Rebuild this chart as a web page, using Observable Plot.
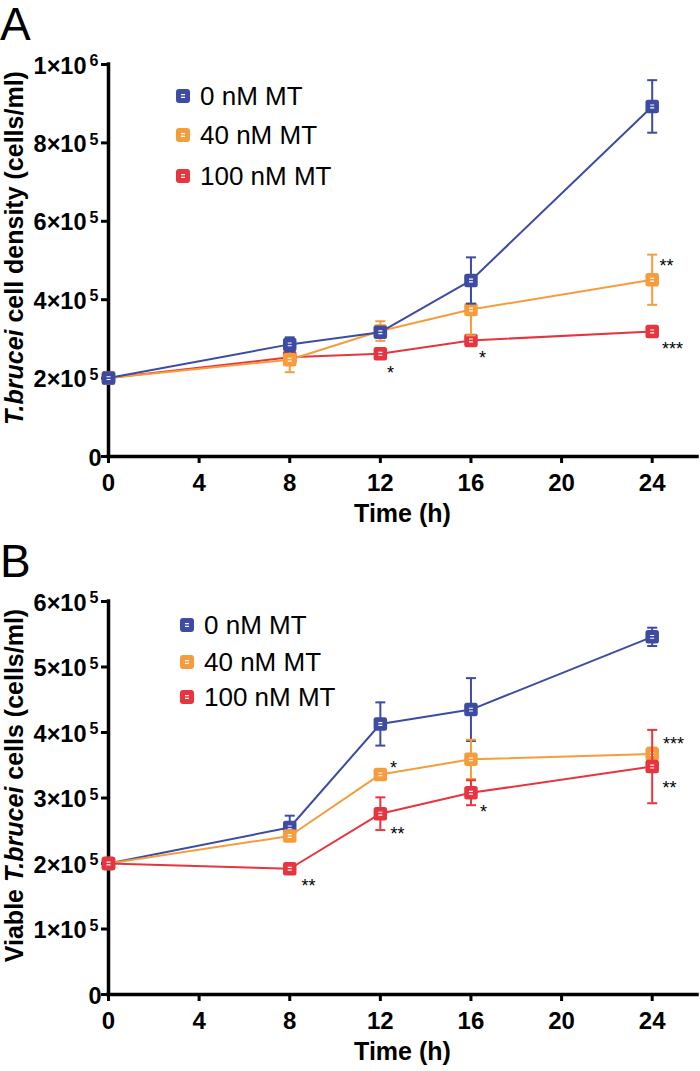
<!DOCTYPE html>
<html>
<head>
<meta charset="utf-8">
<script src="https://cdn.jsdelivr.net/npm/d3@7"></script>
<script src="https://cdn.jsdelivr.net/npm/@observablehq/plot@0.6"></script>
<style>
  body { margin: 0; background: #fff; }
  #root { width: 700px; }
  #root svg { display: block; }
</style>
</head>
<body>
<div id="root"></div>
<script>
// ---------- shared ----------
const timesH = [0, 8, 12, 16, 24];
const xTicks = [0, 4, 8, 12, 16, 20, 24];
const xMax = 26;
const seriesNames = ["0 nM MT", "40 nM MT", "100 nM MT"];
const seriesColors = ["#3d4ca2", "#f59d3d", "#e6353f"];
const xTitle = "Time (h)";

// ---------- panel A: T.brucei cell density (cells/ml) ----------
const densityMean0   = [2.00e5, 2.86e5, 3.17e5, 4.49e5, 8.93e5];
const densityErr0    = [0.04e5, 0.18e5, 0.10e5, 0.59e5, 0.67e5];
const densityMean40  = [2.00e5, 2.47e5, 3.20e5, 3.75e5, 4.51e5];
const densityErr40   = [0.03e5, 0.32e5, 0.25e5, 0.66e5, 0.64e5];
const densityMean100 = [2.00e5, 2.53e5, 2.62e5, 2.96e5, 3.19e5];
const densityErr100  = [0.03e5, 0.04e5, 0.05e5, 0.07e5, 0.05e5];
const densityTicks    = [0, 2e5, 4e5, 6e5, 8e5, 1e6];
const densityTickBase = ["0", "2×10", "4×10", "6×10", "8×10", "1×10"];
const densityTickExp  = ["", "5", "5", "5", "5", "6"];
const densityStarText  = ["*", "*", "**", "***"];
const densityStarTime  = [12.45, 16.51, 24.63, 24.90];
const densityStarValue = [2.245e5, 2.63e5, 4.97e5, 2.86e5];
const densityTitle = [["T.brucei", true], [" cell density (cells/ml)", false]];

// ---------- panel B: Viable T.brucei cells (cells/ml) ----------
const viableMean0   = [2.00e5, 2.55e5, 4.13e5, 4.35e5, 5.46e5];
const viableErr0    = [0.03e5, 0.18e5, 0.33e5, 0.48e5, 0.14e5];
const viableMean40  = [2.00e5, 2.42e5, 3.36e5, 3.59e5, 3.67e5];
const viableErr40   = [0.03e5, 0.05e5, 0.05e5, 0.30e5, 0.10e5];
const viableMean100 = [2.00e5, 1.92e5, 2.76e5, 3.08e5, 3.48e5];
const viableErr100  = [0.03e5, 0.04e5, 0.25e5, 0.19e5, 0.56e5];
const viableTicks    = [0, 1e5, 2e5, 3e5, 4e5, 5e5, 6e5];
const viableTickBase = ["0", "1×10", "2×10", "3×10", "4×10", "5×10", "6×10"];
const viableTickExp  = ["", "5", "5", "5", "5", "5", "5"];
const viableStarText  = ["**", "*", "**", "*", "***", "**"];
const viableStarTime  = [8.83, 12.58, 12.76, 16.55, 24.94, 24.76];
const viableStarValue = [1.72e5, 3.52e5, 2.52e5, 2.85e5, 3.89e5, 3.22e5];
const viableTitle = [["Viable ", false], ["T.brucei", true], [" cells (cells/ml)", false]];

// ---------- symbols ----------
const capSymbol = { draw(ctx) { ctx.moveTo(-5, 0); ctx.lineTo(5, 0); } };
const innerSymbol = { draw(ctx) {
  ctx.moveTo(-2, -1.4); ctx.lineTo(2, -1.4);
  ctx.moveTo(-2, 1.4); ctx.lineTo(2, 1.4);
} };

const FONT = "'Liberation Sans', Arial, Helvetica, sans-serif";

function makePanel(cfg) {
  const rows = [];
  cfg.means.forEach((m, s) => m.forEach((v, i) =>
    rows.push({ idx: s, series: seriesNames[s], time: timesH[i], value: v, err: cfg.errs[s][i] })));
  const ticks = cfg.ticks.map((v, i) => ({ v, base: cfg.tickBase[i], exp: cfg.tickExp[i] }));
  const stars = cfg.starText.map((t, i) => ({ text: t, time: cfg.starTime[i], value: cfg.starValue[i] }));

  const marks = [
    Plot.axisX({ ticks: xTicks, tickSize: 7, tickPadding: 10, strokeWidth: 3, fontSize: 24, fontWeight: "bold", label: null }),
    Plot.axisY({ ticks: cfg.ticks, tickSize: 7, strokeWidth: 3, tickFormat: () => "", label: null }),
    Plot.ruleX([0], { y1: 0, y2: cfg.yMax, stroke: "black", strokeWidth: 3.5, strokeLinecap: "square" }),
    Plot.ruleY([0], { stroke: "black", strokeWidth: 3.5, strokeLinecap: "square" }),
    Plot.text(ticks.filter(d => d.exp), { y: "v", text: "base", frameAnchor: "left", textAnchor: "end", dx: -22, dy: 1.5, fontSize: 23.5, fontWeight: "bold" }),
    Plot.text(ticks.filter(d => d.exp), { y: "v", text: "exp", frameAnchor: "left", textAnchor: "end", dx: -10, dy: -3.5, fontSize: 16, fontWeight: "bold" }),
    Plot.text(ticks.filter(d => !d.exp), { y: "v", text: "base", frameAnchor: "left", textAnchor: "end", dx: -7, dy: 1.5, fontSize: 23.5, fontWeight: "bold" })
  ];
  for (const s of cfg.order) {
    const r = rows.filter(d => d.idx === s);
    const c = seriesColors[s];
    marks.push(
      Plot.ruleX(r, { x: "time", y1: d => d.value - d.err, y2: d => d.value + d.err, stroke: c, strokeWidth: 2 }),
      Plot.dot(r, { x: "time", y: d => d.value + d.err, symbol: capSymbol, stroke: c, strokeWidth: 2 }),
      Plot.dot(r, { x: "time", y: d => d.value - d.err, symbol: capSymbol, stroke: c, strokeWidth: 2 }),
      Plot.line(r, { x: "time", y: "value", stroke: c, strokeWidth: 2 }),
      Plot.dot(r, { x: "time", y: "value", symbol: "square", r: 4.8, fill: c, stroke: c, strokeWidth: 5, strokeLinejoin: "round" }),
      Plot.dot(r, { x: "time", y: "value", symbol: innerSymbol, stroke: "white", strokeWidth: 1.1 })
    );
  }
  marks.push(Plot.text(stars, { x: "time", y: "value", text: "text", fontSize: 18, dy: 4.5, fill: "black" }));

  const svg = Plot.plot({
    width: 700, height: cfg.height,
    marginLeft: 108, marginRight: 3, marginTop: cfg.marginTop, marginBottom: cfg.marginBottom,
    style: { fontFamily: FONT, color: "black", background: "white", overflow: "visible" },
    x: { domain: [0, xMax] },
    y: { domain: [0, cfg.yMax] },
    marks
  });

  const S = d3.select(svg);
  const y0 = cfg.height - cfg.marginBottom;
  const yt = S.append("text")
    .attr("transform", `translate(23,${(cfg.marginTop + y0) / 2 - 12}) rotate(-90)`)
    .attr("text-anchor", "middle").attr("font-size", 25).attr("font-weight", "bold")
    .attr("font-family", FONT).attr("fill", "black");
  cfg.title.forEach(([t, it]) => yt.append("tspan").text(t).attr("font-style", it ? "italic" : "normal"));
  S.append("text").attr("x", (108 + 697) / 2).attr("y", y0 + 66)
    .attr("text-anchor", "middle").attr("font-size", 25).attr("font-weight", "bold")
    .attr("font-family", FONT).attr("fill", "black").text(xTitle);
  S.append("text").attr("x", 0).attr("y", cfg.letterY).attr("font-size", 46)
    .attr("text-anchor", "start")
    .attr("font-family", FONT).attr("fill", "black").text(cfg.letter);
  seriesNames.forEach((name, i) => {
    const cy = cfg.legendY[i], cx = cfg.legendX;
    S.append("rect").attr("x", cx - 7).attr("y", cy - 7).attr("width", 14).attr("height", 14)
      .attr("rx", 3).attr("fill", seriesColors[i]);
    S.append("path").attr("d", `M${cx - 2},${cy - 1.4}h4M${cx - 2},${cy + 1.4}h4`)
      .attr("stroke", "white").attr("stroke-width", 1.1);
    S.append("text").attr("x", cx + 17).attr("y", cy).attr("dy", "0.36em")
      .attr("text-anchor", "start")
      .attr("font-size", 26).attr("font-family", FONT).attr("fill", "black").text(name);
  });
  return svg;
}

const root = document.getElementById("root");
root.appendChild(makePanel({
  means: [densityMean0, densityMean40, densityMean100],
  errs: [densityErr0, densityErr40, densityErr100],
  ticks: densityTicks, tickBase: densityTickBase, tickExp: densityTickExp,
  starText: densityStarText, starTime: densityStarTime, starValue: densityStarValue,
  title: densityTitle, yMax: 1e6, order: [2, 1, 0],
  height: 535, marginTop: 64, marginBottom: 79,
  letter: "A", letterY: 40, legendX: 183, legendY: [96, 135, 176]
}));
root.appendChild(makePanel({
  means: [viableMean0, viableMean40, viableMean100],
  errs: [viableErr0, viableErr40, viableErr100],
  ticks: viableTicks, tickBase: viableTickBase, tickExp: viableTickExp,
  starText: viableStarText, starTime: viableStarTime, starValue: viableStarValue,
  title: viableTitle, yMax: 6e5, order: [0, 1, 2],
  height: 536, marginTop: 66, marginBottom: 77,
  letter: "B", letterY: 42, legendX: 187, legendY: [90, 127, 162]
}));
</script>
</body>
</html>
